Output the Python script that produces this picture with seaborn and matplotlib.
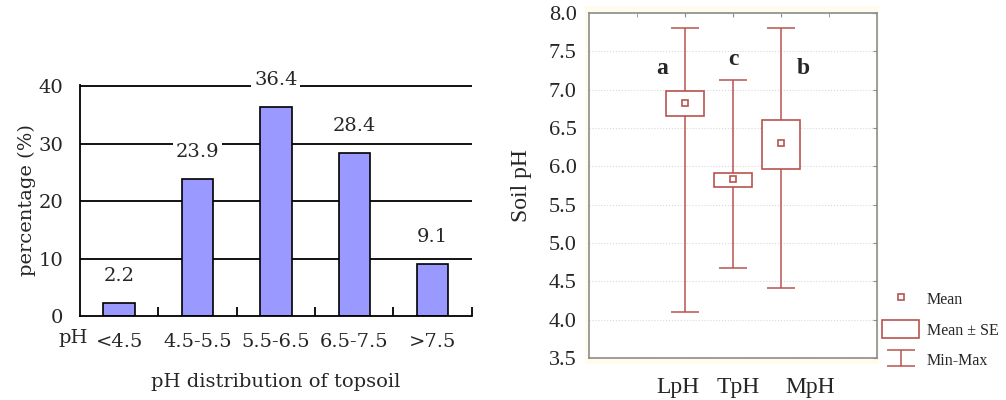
import numpy as np
import matplotlib
matplotlib.use('Agg')
import matplotlib.pyplot as plt
import seaborn as sns
from matplotlib.patches import Rectangle

# Data ------------------------------------------------------------------------

ph_classes = ['<4.5', '4.5-5.5', '5.5-6.5', '6.5-7.5', '>7.5']
ph_percent = [2.2, 23.9, 36.4, 28.4, 9.1]

groups = ['LpH', 'TpH', 'MpH']
group_mean = [6.83, 5.83, 6.30]
group_se_lo = [6.66, 5.73, 5.97]
group_se_hi = [6.98, 5.91, 6.60]
group_min = [4.10, 4.67, 4.41]
group_max = [7.81, 7.12, 7.81]
group_letters = ['a', 'c', 'b']

# Style -----------------------------------------------------------------------

sns.set_style('white')
plt.rcParams['font.family'] = ['Liberation Serif', 'DejaVu Serif']
bar_color = '#9999FF'
red = '#B9534F'
frame_gray = '#8C8C8C'
left_font = 'DejaVu Serif'

fig = plt.figure(figsize=(10.06, 4.0), dpi=100)
fig.patch.set_facecolor('white')

# faint cream panel behind the right chart
fig.patches.append(Rectangle((0.582, 0.09), 0.292, 0.895, transform=fig.transFigure,
                             facecolor='#FFFBEE', edgecolor='none', zorder=-5))

# Left: bar chart -------------------------------------------------------------

ax1 = fig.add_axes([0.0795, 0.21, 0.3895, 0.5775])
sns.barplot(x=ph_classes, y=ph_percent, color=bar_color, saturation=1,
            edgecolor='black', linewidth=1.2, width=0.4, ax=ax1, zorder=3)
ax1.set_xlim(-0.5, len(ph_classes) - 0.5)
ax1.set_ylim(0, 40.2)
ax1.set_yticks([0, 10, 20, 30, 40])
for yv in [10, 20, 30, 40]:
    ax1.axhline(yv, color='black', lw=1.3, zorder=1)

for side in ['top', 'right']:
    ax1.spines[side].set_visible(False)
for side in ['left', 'bottom']:
    ax1.spines[side].set_color('black')
    ax1.spines[side].set_linewidth(1.3)
    ax1.spines[side].set_zorder(4)

ax1.set_xticks(np.arange(len(ph_classes)))
ax1.set_xticks(np.arange(len(ph_classes)) + 0.5, minor=True)
ax1.set_xticklabels(ph_classes, fontfamily=left_font, fontsize=14)
ax1.tick_params(axis='x', which='major', length=0, pad=12)
ax1.tick_params(axis='x', which='minor', direction='in', length=6.5,
                width=1.3, color='black', bottom=True)
ax1.tick_params(axis='y', length=0, pad=12)
for lab in ax1.get_yticklabels():
    lab.set_fontfamily(left_font)
    lab.set_fontsize(14)

texts = ax1.bar_label(ax1.containers[0], labels=[f'{v:.1f}' for v in ph_percent],
                      padding=13, fontfamily=left_font, fontsize=14, zorder=5)
for t in texts:
    t.set_bbox(dict(facecolor='white', edgecolor='none', pad=2))

ax1.annotate('pH', xy=(0, 0), xycoords='axes fraction', xytext=(-5, -15.5),
             textcoords='offset points', ha='center', va='center',
             fontfamily=left_font, fontsize=14)
ax1.set_ylabel('percentage (%)', fontfamily=left_font, fontsize=14, labelpad=2)
ax1.set_xlabel('pH distribution of topsoil', fontfamily=left_font, fontsize=14,
               labelpad=16)

# Right: mean / SE / min-max chart --------------------------------------------

ax2 = fig.add_axes([0.5855, 0.105, 0.2863, 0.8625])
ax2.set_facecolor('white')
xpos = np.arange(len(groups)) + 2

err = ax2.errorbar(xpos, group_mean,
                   yerr=[np.array(group_mean) - np.array(group_min),
                         np.array(group_max) - np.array(group_mean)],
                   fmt='none', ecolor=red, elinewidth=1.1, capsize=10,
                   capthick=1.1, zorder=2, label='Min-Max')
boxes = ax2.bar(xpos, np.array(group_se_hi) - np.array(group_se_lo),
                bottom=group_se_lo, width=0.8, facecolor='white',
                edgecolor=red, linewidth=1.2, zorder=3, label='Mean \u00b1 SE')
mean_line, = ax2.plot(xpos, group_mean, ls='none', marker='s', markersize=4.5,
                      mfc='white', mec=red, mew=1.2, zorder=4, label='Mean')

for x, letter, dx in zip(xpos, group_letters, [-0.47, 0, 0.47]):
    ytxt = 7.40 if dx == 0 else 7.27
    ax2.text(x + dx, ytxt, letter, ha='center', va='center',
             fontsize=17, fontweight='bold', zorder=5)

ax2.set_xlim(0, 6)
ax2.set_ylim(3.5, 8.0)
ax2.set_yticks(np.arange(3.5, 8.01, 0.5))
ax2.set_yticklabels([f'{v:.1f}' for v in np.arange(3.5, 8.01, 0.5)],
                    fontsize=16)
ax2.set_xticks(xpos)
ax2.set_xticks([1, 5], minor=True)
ax2.set_xticklabels([])
# the group names sit slightly off their ticks in the original
xlab_trans = ax2.get_xaxis_transform()
for x, name, dx in zip(xpos, groups, [-5, 4, 21]):
    ax2.annotate(name, xy=(x, 0), xycoords=xlab_trans, xytext=(dx, -21),
                 textcoords='offset points', ha='center', va='center',
                 fontsize=17, annotation_clip=False)
ax2.yaxis.grid(True, color='#D9D9D9', lw=0.8, ls=':')
ax2.tick_params(axis='both', which='both', direction='in', length=3,
                color=frame_gray, top=True, right=True)
ax2.tick_params(axis='y', pad=9)
for side in ax2.spines.values():
    side.set_visible(True)
    side.set_color(frame_gray)
    side.set_linewidth(1.2)
ax2.set_ylabel('Soil pH', fontsize=17, labelpad=12)

fig.legend(handles=[mean_line, boxes, err],
           labels=['Mean', 'Mean \u00b1 SE', 'Min-Max'],
           loc='lower left', bbox_to_anchor=(0.877, 0.078),
           bbox_transform=fig.transFigure, frameon=False,
           prop={'size': 11.5},
           handlelength=2.3, handleheight=1.35, labelspacing=0.75,
           handletextpad=0.5, borderpad=0.0, borderaxespad=0.0)

fig.savefig('out.png', dpi=100)
